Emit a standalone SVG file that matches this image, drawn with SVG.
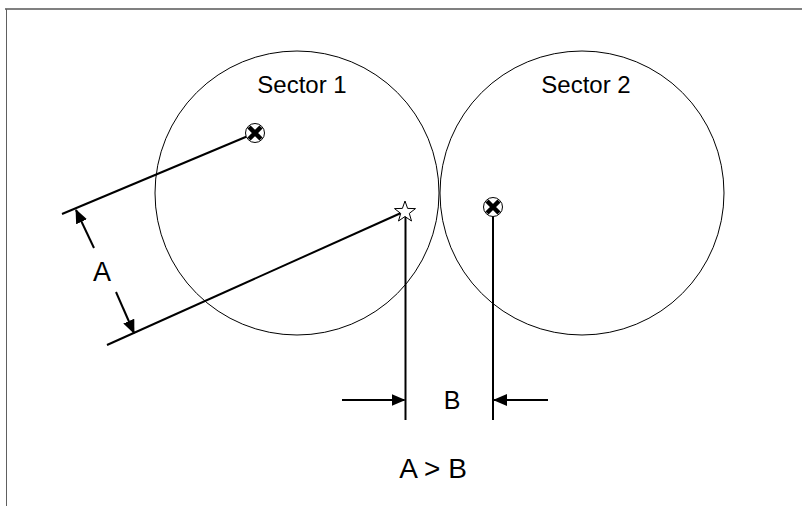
<svg xmlns="http://www.w3.org/2000/svg" width="802" height="506" viewBox="0 0 802 506">
<style>
.c{fill:none;stroke:#000;stroke-width:1}
.l{fill:none;stroke:#000;stroke-width:2}
.t{font-family:"Liberation Sans",Arial,sans-serif;fill:#000}
</style>
<defs>
<marker id="ah" viewBox="0 0 14 12" refX="13" refY="6" markerWidth="14" markerHeight="12" markerUnits="userSpaceOnUse" orient="auto">
<path d="M0,0 L14,6 L0,12 Z" fill="#000"/>
</marker>
<g id="xm">
<circle r="9.5" fill="#fff" stroke="#000" stroke-width="1"/>
<path d="M-6,-6 L6,6 M6,-6 L-6,6" stroke="#000" stroke-width="4.5"/>
</g>
</defs>
<rect width="802" height="506" fill="#fff"/>
<g id="frame">
<line x1="5" y1="9" x2="802" y2="9" stroke="#808080" stroke-width="2"/>
<line x1="6.5" y1="9" x2="6.5" y2="506" stroke="#606060" stroke-width="1"/>
</g>
<g id="sector1">
<circle class="c" cx="297" cy="193" r="142"/>
<text class="t" x="302" y="93" font-size="24" text-anchor="middle">Sector 1</text>
</g>
<g id="sector2">
<circle class="c" cx="582" cy="193" r="142"/>
<text class="t" x="586" y="93" font-size="24" text-anchor="middle">Sector 2</text>
</g>
<g id="connectors">
<line class="l" x1="62" y1="214" x2="248" y2="136"/>
<line class="l" x1="107" y1="345" x2="401" y2="213"/>
<line class="l" x1="405.5" y1="214" x2="405.5" y2="420"/>
<line class="l" x1="493" y1="214" x2="493" y2="420"/>
<line class="l" x1="94" y1="248" x2="76" y2="210" marker-end="url(#ah)"/>
<line class="l" x1="116" y1="292" x2="134" y2="333" marker-end="url(#ah)"/>
<line class="l" x1="342" y1="400" x2="404.5" y2="400" marker-end="url(#ah)"/>
<line class="l" x1="548" y1="400" x2="494" y2="400" marker-end="url(#ah)"/>
</g>
<g id="markerS1"><use href="#xm" x="255" y="133"/></g>
<g id="markerS2"><use href="#xm" x="493" y="207"/></g>
<g id="star">
<polygon points="405,201 407.6,208.4 415.5,208.6 409.3,213.4 411.5,221 405,216.5 398.5,221 400.7,213.4 394.5,208.6 402.4,208.4" fill="#fff" stroke="#000" stroke-width="1"/>
</g>
<g id="labels">
<text class="t" x="102" y="281" font-size="27" text-anchor="middle">A</text>
<text class="t" x="452" y="409" font-size="25" text-anchor="middle">B</text>
<text class="t" x="433" y="478" font-size="28" text-anchor="middle">A &gt; B</text>
</g>
</svg>
